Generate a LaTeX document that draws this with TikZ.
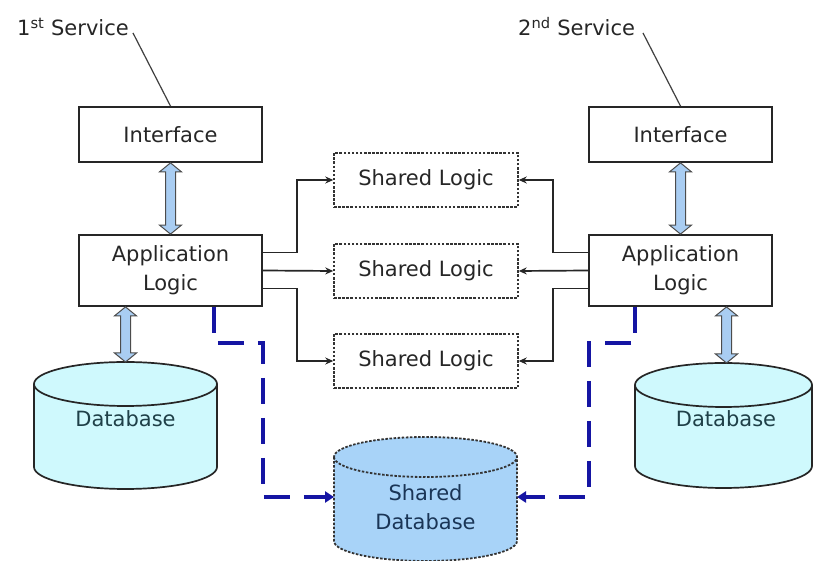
\documentclass[tikz,border=0pt]{standalone}
\usepackage{fontspec}
\setmainfont{DejaVu Sans}
\usetikzlibrary{arrows.meta,calc}

\definecolor{txtgray}{HTML}{262626}
\definecolor{dbtxt}{HTML}{1F4048}
\definecolor{arrowfill}{HTML}{A9CDF2}
\definecolor{dbfill}{HTML}{CFF9FD}
\definecolor{shdbfill}{HTML}{A8D3F8}
\definecolor{shdbtxt}{HTML}{1A3556}
\definecolor{linkblue}{HTML}{1515A3}

\tikzset{
  box/.style={draw=black!85, line width=1.8pt, minimum width=183pt, text=txtgray,
              font=\fontsize{21}{29}\selectfont, align=center, inner sep=0pt},
  sharedbox/.style={draw=black!80, line width=1.5pt, dash pattern=on 2.5pt off 1.6pt,
              minimum width=184pt, minimum height=54pt, text=txtgray,
              font=\fontsize{21}{24}\selectfont, inner sep=0pt},
  label/.style={text=txtgray, font=\fontsize{21}{24}\selectfont, inner sep=0pt},
  leader/.style={draw=black!75, line width=1.2pt},
  feed/.style={draw=black!85, line width=1.7pt, -{Stealth[length=8pt,width=7pt]}},
  dblink/.style={draw=linkblue, line width=3.2pt, dash pattern=on 26pt off 14pt,
              -{Triangle[length=9pt,width=11pt]}},
  frame/.style={inner sep=0pt, outer sep=0pt}
}

% double-headed block arrow between two vertical points
\newcommand{\blockarrow}[2]{%
  \path let \p1=(#1), \p2=(#2) in
    [fill=arrowfill, draw=black!70, line width=1pt, line join=miter]
    (\x1,\y1) -- (\x1-11,\y1-9) -- (\x1-5,\y1-9) -- (\x1-5,\y2+9) -- (\x1-11,\y2+9)
    -- (\x1,\y2) -- (\x1+11,\y2+9) -- (\x1+5,\y2+9) -- (\x1+5,\y1-9) -- (\x1+11,\y1-9) -- cycle;}

% cylinder drawn on the bounds of a node
\newcommand{\drumshape}[4]{% node, ry, style, stroke
  \path let \p1=(#1.north west), \p2=(#1.south east), \n1={(\x2-\x1)/2} in
    [#3, #4]
    (\x1,\y1-#2) -- (\x1,\y2+#2)
    arc[start angle=180, end angle=360, x radius=\n1, y radius=#2pt]
    -- (\x2,\y1-#2)
    arc[start angle=0, end angle=180, x radius=\n1, y radius=#2pt] -- cycle;
  \path let \p1=(#1.north west), \p2=(#1.south east), \n1={(\x2-\x1)/2} in
    [#4]
    (\x1,\y1-#2) arc[start angle=180, end angle=360, x radius=\n1, y radius=#2pt];}

\begin{document}
\begin{tikzpicture}[x=1pt,y=1pt]
\useasboundingbox[fill=white] (0,0) rectangle (813,561);

% ---------------- services ----------------
\node[label, anchor=base west] (s1) at (17,525) {1\textsuperscript{st} Service};
\node[label, anchor=base west] (s2) at (518,525) {2\textsuperscript{nd} Service};

\node[box, minimum height=55pt] (if1) at (170.5,426.5) {Interface};
\node[box, minimum height=71pt] (app1) at (170.5,290.5) {Application\\Logic};
\node[box, minimum height=55pt] (if2) at (680.5,426.5) {Interface};
\node[box, minimum height=71pt] (app2) at (680.5,290.5) {Application\\Logic};

\coordinate (t1) at (133,528);
\coordinate (t2) at (643,528);
\draw[leader] (t1) -- (if1.north);
\draw[leader] (t2) -- (if2.north);

% ---------------- shared logic ----------------
\node[sharedbox] (sl1) at (426,381) {Shared Logic};
\node[sharedbox] (sl2) at (426,290) {Shared Logic};
\node[sharedbox] (sl3) at (426,200) {Shared Logic};

\draw[feed] ($(app1.east)+(0,18)$) -| (297,381) -- (sl1.west);
\draw[feed] (app1.east) -- (sl2.west);
\draw[feed] ($(app1.east)+(0,-18)$) -| (297,200) -- (sl3.west);
\draw[feed] ($(app2.west)+(0,18)$) -| (553,381) -- (sl1.east);
\draw[feed] (app2.west) -- (sl2.east);
\draw[feed] ($(app2.west)+(0,-18)$) -| (553,200) -- (sl3.east);

% ---------------- databases ----------------
\node[frame, minimum width=183pt, minimum height=127pt] (db1) at (125.5,135.5) {};
\drumshape{db1}{22}{fill=dbfill}{draw=black!85, line width=1.7pt}
\node[text=dbtxt, font=\fontsize{21}{24}\selectfont] (db1t) at (125.5,142) {Database};

\node[frame, minimum width=177pt, minimum height=125pt] (db2) at (723.5,135.5) {};
\drumshape{db2}{22}{fill=dbfill}{draw=black!85, line width=1.7pt}
\node[text=dbtxt, font=\fontsize{21}{24}\selectfont] (db2t) at (726,142) {Database};

\node[frame, minimum width=183pt, minimum height=124pt] (sdb) at (425.5,62) {};
\drumshape{sdb}{20}{fill=shdbfill}{draw=black!80, line width=1.8pt, dash pattern=on 2.5pt off 1.6pt}
\node[text=shdbtxt, font=\fontsize{21}{29}\selectfont, align=center] (sdbt) at (425.5,53.5) {Shared\\Database};

% ---------------- block arrows ----------------
\blockarrow{if1.south}{app1.north}
\blockarrow{$(app1.south)+(-45,0)$}{$(db1.north)$}
\blockarrow{if2.south}{app2.north}
\blockarrow{$(app2.south)+(46,0)$}{$(db2.north)+(3,0)$}

% ---------------- links to the shared database ----------------
\draw[dblink] ($(app1.south)+(43.5,0)$) |- (263,218) |- ($(sdb.west)+(0,2)$);
\draw[dblink] ($(app2.south)+(-45.5,0)$) |- (589,218) |- ($(sdb.east)+(0,2)$);
\end{tikzpicture}
\end{document}
